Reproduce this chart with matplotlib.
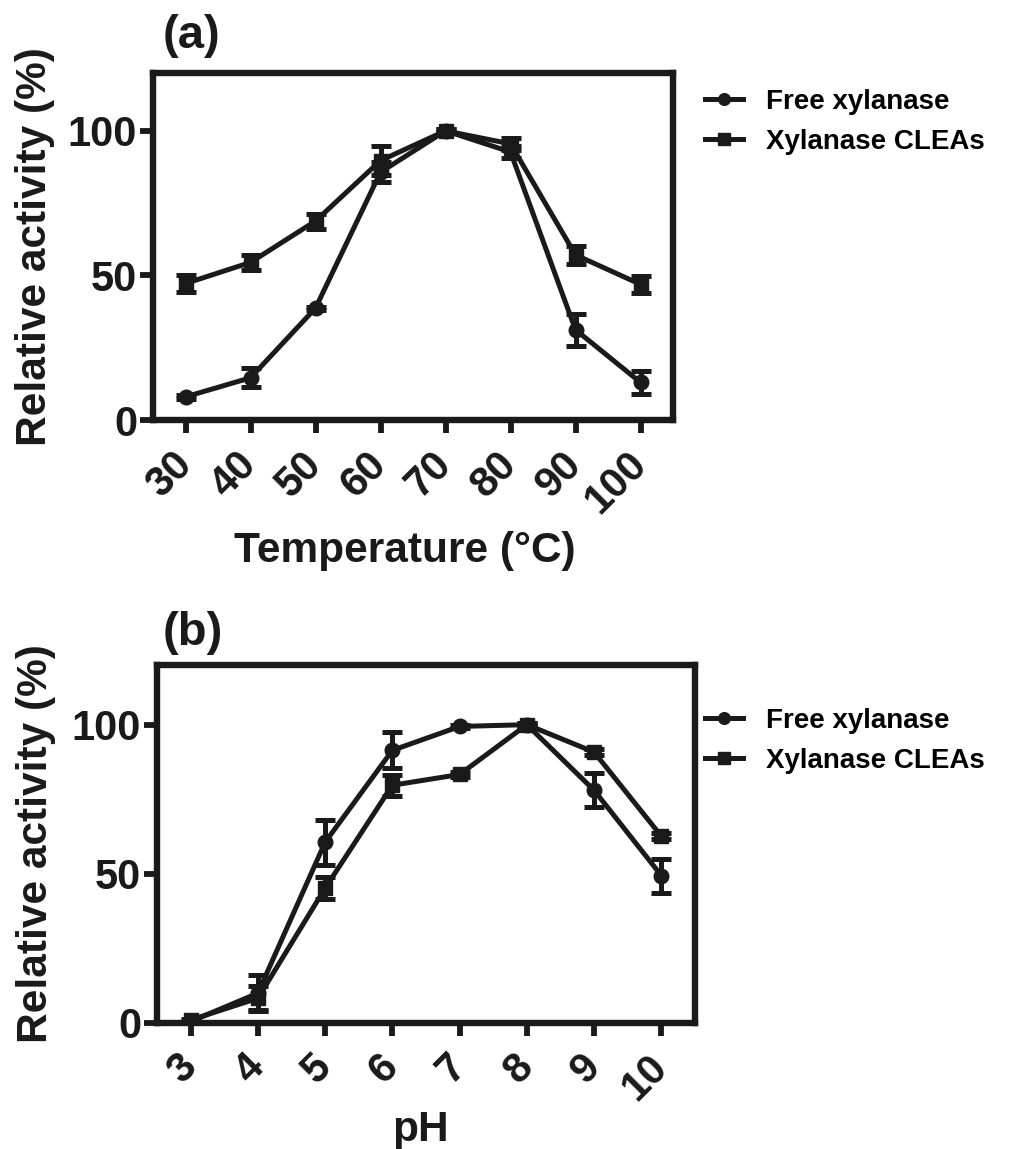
import matplotlib
matplotlib.use("Agg")
import matplotlib.pyplot as plt

# =====================
# data
# =====================
temp = [30, 40, 50, 60, 70, 80, 90, 100]
temp_free = [8, 14.6, 38.7, 85.7, 100, 92.7, 31.2, 13]
temp_free_err = [0.8, 3.3, 0.5, 3.5, 0.5, 2.0, 5.6, 4.0]
temp_clea = [47.2, 54.5, 68.8, 89.7, 100, 95.5, 57.1, 46.9]
temp_clea_err = [3.0, 2.6, 2.6, 4.9, 0.8, 2.0, 3.0, 2.9]

ph = [3, 4, 5, 6, 7, 8, 9, 10]
ph_free = [0.5, 10, 60.6, 91.4, 99.4, 100, 78, 49.4]
ph_free_err = [0.3, 6.0, 7.5, 6.0, 0.5, 0.5, 5.7, 5.7]
ph_clea = [1, 8.3, 45.2, 79.7, 83.3, 100, 90.8, 62.6]
ph_clea_err = [0.5, 4.0, 3.6, 3.5, 0.8, 0.5, 1.0, 1.0]

series_labels = ["Free xylanase", "Xylanase CLEAs"]

INK = "#1a1a1a"
plt.rcParams["font.family"] = ["Liberation Sans", "DejaVu Sans"]
plt.rcParams["font.weight"] = "bold"
plt.rcParams["axes.labelweight"] = "bold"

fig = plt.figure(figsize=(10.30, 11.49), dpi=100)

W, H = 1030, 1149


def px_axes(l, t, r, b):
    return fig.add_axes([l / W, 1 - b / H, (r - l) / W, (b - t) / H])


def panel(ax, x, free, free_err, clea, clea_err, xlim, xlabel, xlab_xy, leg_top):
    kw = dict(color=INK, lw=3.6, elinewidth=3.6, capsize=7.5, capthick=3.6,
              markersize=10.5)
    c1 = ax.errorbar(x, free, yerr=free_err, fmt="-o", **kw)
    c2 = ax.errorbar(x, clea, yerr=clea_err, fmt="-s", **kw)
    ax.set_xlim(*xlim)
    ax.set_ylim(0, 120)
    ax.set_yticks([0, 50, 100])
    ax.set_xticks(x)
    ax.set_xticklabels([str(v) for v in x], rotation=45, ha="right",
                       va="center", rotation_mode="anchor")
    for s in ax.spines.values():
        s.set_linewidth(4.6)
        s.set_color(INK)
    ax.tick_params(length=9.5, width=4.2, color=INK, labelsize=30,
                   labelcolor=INK, pad=2)
    ax.tick_params(axis="x", pad=18)
    ax.set_ylabel("Relative activity (%)", fontsize=30.5, color=INK)
    ax.yaxis.set_label_coords(-0.188, 0.5)
    ax.set_xlabel(xlabel, fontsize=30.5, color=INK, va="top")
    ax.xaxis.set_label_coords(*xlab_xy)
    ax.legend([c1[0], c2[0]], series_labels, loc="upper left",
              bbox_to_anchor=(705 / W, 1 - leg_top / H),
              bbox_transform=fig.transFigure, frameon=False,
              borderpad=0, borderaxespad=0, handlelength=1.35,
              handletextpad=0.85, labelspacing=0.5,
              prop={"size": 20, "weight": "bold"}, markerscale=0.8)


ax1 = px_axes(153, 73, 673, 420)
panel(ax1, temp, temp_free, temp_free_err, temp_clea, temp_clea_err,
      (25, 105), "Temperature (\u00b0C)", (0.485, -0.32), 89)

ax2 = px_axes(157, 665, 695, 1023)
panel(ax2, ph, ph_free, ph_free_err, ph_clea, ph_clea_err,
      (2.5, 10.5), "pH", (0.489, -0.243), 708)

fig.text(163 / W, 1 - 48 / H, "(a)", fontsize=34, fontweight="bold",
         color=INK, va="baseline")
fig.text(163 / W, 1 - 645 / H, "(b)", fontsize=34, fontweight="bold",
         color=INK, va="baseline")

fig.savefig("out.png", dpi=100, facecolor="white")
